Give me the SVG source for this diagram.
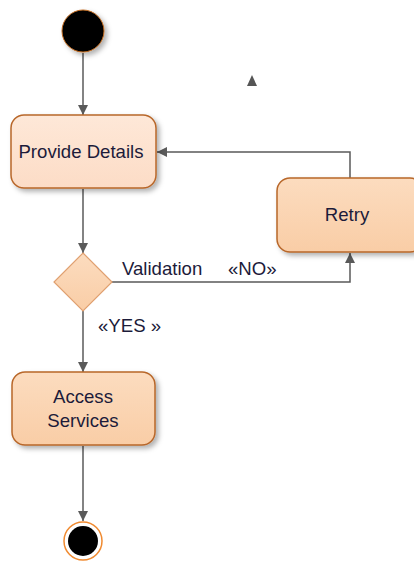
<svg xmlns="http://www.w3.org/2000/svg" width="414" height="563" viewBox="0 0 414 563">
  <style>
    .node { stroke: #b8672a; stroke-width: 1.5; }
    .label { font-family: "Liberation Sans", Arial, sans-serif; font-size: 18.6px; fill: #1c1b3a; }
    .edge { fill: none; stroke: #5a5a5a; stroke-width: 1.5; }
  </style>
  <defs>
    <linearGradient id="fillLight" x1="0" y1="0" x2="0" y2="1">
      <stop offset="0" stop-color="#fee8d8"/>
      <stop offset="1" stop-color="#fcdcc6"/>
    </linearGradient>
    <linearGradient id="fillWarm" x1="0" y1="0" x2="0" y2="1">
      <stop offset="0" stop-color="#fcdcbf"/>
      <stop offset="1" stop-color="#f9cda6"/>
    </linearGradient>
    <filter id="shadow" x="-20%" y="-20%" width="150%" height="150%">
      <feDropShadow dx="3" dy="3" stdDeviation="2.5" flood-color="#000" flood-opacity="0.3"/>
    </filter>
    <marker id="arrow" viewBox="0 0 10 10" refX="10" refY="5" markerWidth="10" markerHeight="10" markerUnits="userSpaceOnUse" orient="auto">
      <path d="M0,0 L10,5 L0,10 z" fill="#5a5a5a"/>
    </marker>
  </defs>

  <!-- connectors -->
  <g id="edges">
    <path class="edge" d="M83,53 V115" marker-end="url(#arrow)"/>
    <path class="edge" d="M83,189 V253" marker-end="url(#arrow)"/>
    <path class="edge" d="M112,282 H350 V253" marker-end="url(#arrow)"/>
    <path class="edge" d="M350,178 V152 H157" marker-end="url(#arrow)"/>
    <path class="edge" d="M83,311 V372" marker-end="url(#arrow)"/>
    <path class="edge" d="M83,446 V521" marker-end="url(#arrow)"/>
    <text class="label" x="122" y="275">Validation</text>
    <text class="label" x="228" y="275">«NO»</text>
    <text class="label" x="98" y="332">«YES »</text>
    <polygon points="252,75 257,86 247,86" fill="#555"/>
  </g>

  <g id="start">
    <circle cx="83" cy="31" r="21" fill="#000" stroke="#c06a20" stroke-width="1" filter="url(#shadow)"/>
  </g>

  <g id="provide-details">
    <rect class="node" x="11" y="115" width="145" height="73" rx="13" fill="url(#fillLight)" filter="url(#shadow)"/>
    <text class="label" x="81" y="158" text-anchor="middle">Provide Details</text>
  </g>

  <g id="retry">
    <rect class="node" x="277" y="178" width="146" height="74" rx="13" fill="url(#fillWarm)" filter="url(#shadow)"/>
    <text class="label" x="347" y="221" text-anchor="middle">Retry</text>
  </g>

  <g id="validation">
    <polygon points="83,253 112,282 83,311 54,282" fill="url(#fillWarm)" stroke="#e0a070" stroke-width="1.2"/>
  </g>

  <g id="access-services">
    <rect class="node" x="12" y="372" width="143" height="73" rx="13" fill="url(#fillWarm)" filter="url(#shadow)"/>
    <text class="label" x="83" y="403" text-anchor="middle">Access</text>
    <text class="label" x="83" y="427" text-anchor="middle">Services</text>
  </g>

  <g id="end">
    <circle cx="83" cy="541" r="19" fill="#fff" stroke="#f08a30" stroke-width="1.5"/>
    <circle cx="83" cy="541" r="15" fill="#000"/>
  </g>
</svg>
